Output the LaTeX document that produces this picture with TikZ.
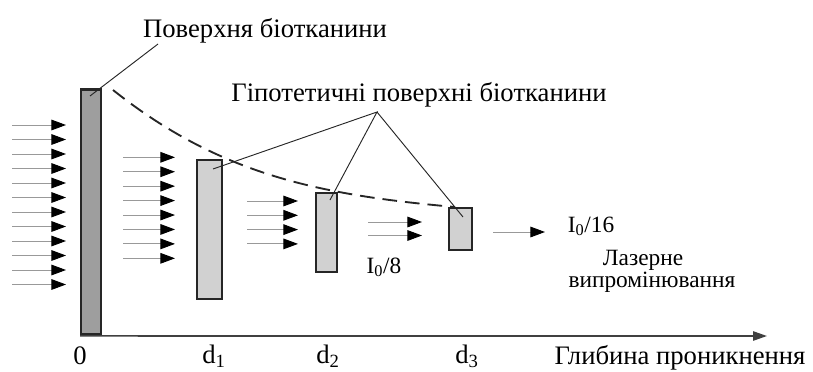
\documentclass[tikz,border=0pt]{standalone}
\usepackage{fontspec}
\setmainfont{Liberation Serif}
\usetikzlibrary{arrows.meta,positioning,calc}
\tikzset{
  btslab/.style={draw=black!85, line width=1.8pt, inner sep=0pt, fill=black!18},
  btray/.style={draw=black!40, line width=0.7pt, -{Triangle[length=11pt,width=8pt,color=black]}},
  btaxis/.style={draw=black!75, line width=1.3pt, -{Triangle[length=10.5pt,width=7pt]}},
  btlead/.style={draw=black!85, line width=0.7pt},
  btdash/.style={draw=black!85, line width=1.4pt, dash pattern=on 11pt off 6pt},
  btlabel/.style={font=\fontsize{20}{22}\selectfont, inner sep=0pt, anchor=base},
  btsmall/.style={font=\fontsize{17.5}{18}\selectfont, inner sep=0pt, anchor=base},
}

\begin{document}
\begin{tikzpicture}[x=0.75pt, y=-0.75pt]
  \useasboundingbox (0,0) rectangle (813,371);

  % tissue slabs
  \node[btslab, fill=black!38, minimum width=14.7pt, minimum height=184pt] (slab0) at (91,212) {};
  \node[btslab, minimum width=18.5pt, minimum height=104pt] (slab1) at (209.5,229.5) {};
  \node[btslab, minimum width=15.5pt, minimum height=59pt] (slab2) at (326.5,232.5) {};
  \node[btslab, minimum width=17pt, minimum height=31.2pt] (slab3) at (460.5,229) {};

  % depth axis
  \coordinate (axend) at (767,336);
  \draw[btaxis] (slab0.south west) -- (axend);
  \node[btlabel] (t0) at (80,364) {0};
  \node[btlabel] (t1) at (214,363) {d\textsubscript{1}};
  \node[btlabel] (t2) at (328,363) {d\textsubscript{2}};
  \node[btlabel] (t3) at (467,363) {d\textsubscript{3}};
  \node[btlabel] (axname) at (680,364) {Глибина проникнення};

  % laser rays
  \foreach \i in {0,...,11}
    \draw[btray] (12,125+14.5*\i) -- (66,125+14.5*\i);
  \foreach \i in {0,...,7}
    \draw[btray] (123,157.3+14.43*\i) -- (175,157.3+14.43*\i);
  \foreach \i in {0,...,3}
    \draw[btray] (247,201+14.3*\i) -- (298,201+14.3*\i);
  \foreach \i in {0,1}
    \draw[btray] (368,222+13.5*\i) -- (422,222+13.5*\i);
  \draw[btray] (493,232) -- (545,232);

  \node[btsmall] (i8) at (384,273) {I\textsubscript{0}/8};
  \node[btsmall] (i16) at (591,232) {I\textsubscript{0}/16};
  \node[btsmall] (laser) at (643,265) {Лазерне};
  \node[btsmall] (laser2) at (652,287) {випромінювання};

  % surface labels
  \node[btlabel] (surf) at (265,37) {Поверхня біотканини};
  \coordinate (s0top) at (158,44);
  \coordinate (s0) at (90,96);
  \draw[btlead] (s0top) -- (s0);

  \node[btlabel] (hyp) at (419,101) {Гіпотетичні поверхні біотканини};
  \coordinate (apex) at (377,112);
  \coordinate (h1) at (213,169);
  \coordinate (h2) at (330,200);
  \coordinate (h3) at (463,217);
  \draw[btlead] (h1) -- (apex) -- (h2);
  \draw[btlead] (apex) -- (h3);

  \draw[btdash] (113,90) .. controls (220,175) and (320,195) .. (455,207);
\end{tikzpicture}
\end{document}
